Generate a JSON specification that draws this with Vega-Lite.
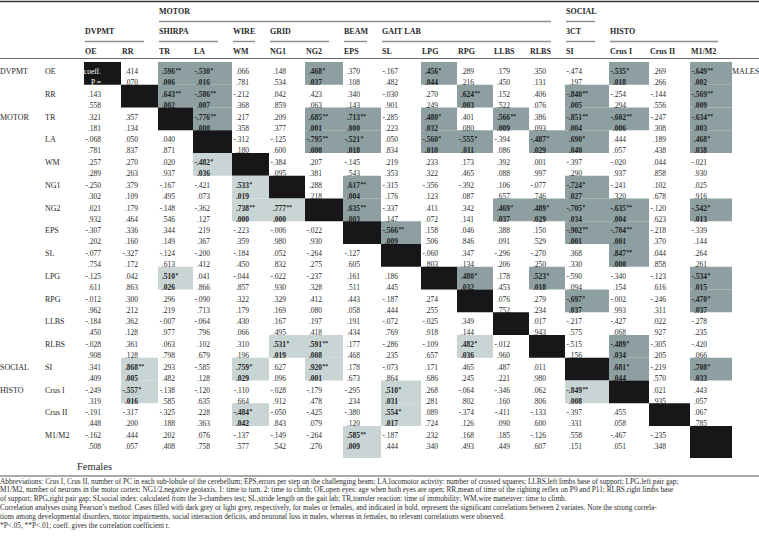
{
 "$schema": "https://vega.github.io/schema/vega-lite/v6.json",
 "width": 759, "height": 538, "padding": 0, "autosize": "none",
 "background": "white",
 "config": {"view": {"stroke": null}, "font": "Liberation Serif"},
 "datasets": {
  "one": [{}],
  "vars": [
   {"v":"OE","i":0,"j":1,"grp":"DVPMT"},{"v":"RR","i":1,"j":2,"grp":""},{"v":"TR","i":2,"j":3,"grp":"MOTOR"},{"v":"LA","i":3,"j":4,"grp":""},
   {"v":"WM","i":4,"j":5,"grp":""},{"v":"NG1","i":5,"j":6,"grp":""},{"v":"NG2","i":6,"j":7,"grp":""},{"v":"EPS","i":7,"j":8,"grp":""},
   {"v":"SL","i":8,"j":9,"grp":""},{"v":"LPG","i":9,"j":10,"grp":""},{"v":"RPG","i":10,"j":11,"grp":""},{"v":"LLBS","i":11,"j":12,"grp":""},
   {"v":"RLBS","i":12,"j":13,"grp":""},{"v":"SI","i":13,"j":14,"grp":"SOCIAL"},{"v":"Crus I","i":14,"j":15,"grp":"HISTO"},{"v":"Crus II","i":15,"j":16,"grp":""},
   {"v":"M1/M2","i":16,"j":17,"grp":""}
  ],
  "groups": [
   {"t":"MOTOR","a":"TR","b":"RLBS","l":-3},{"t":"SOCIAL","a":"SI","b":"SI","l":-3},
   {"t":"DVPMT","a":"OE","b":"RR","l":-2},{"t":"SHIRPA","a":"TR","b":"LA","l":-2},{"t":"WIRE","a":"WM","b":"WM","l":-2},
   {"t":"GRID","a":"NG1","b":"NG2","l":-2},{"t":"BEAM","a":"EPS","b":"EPS","l":-2},{"t":"GAIT LAB","a":"SL","b":"RLBS","l":-2},
   {"t":"3CT","a":"SI","b":"SI","l":-2},{"t":"HISTO","a":"Crus I","b":"M1/M2","l":-2}
  ],
  "cells": [
   {"r":"OE","c":"OE","v":"coeff.","p":"P =","g":"D"},
   {"r":"OE","c":"RR","v":".414","p":".070"},
   {"r":"OE","c":"TR","v":".596","p":".006","s":"**","g":"M"},
   {"r":"OE","c":"LA","v":"-.530","p":".016","s":"*","g":"M"},
   {"r":"OE","c":"WM","v":".066","p":".781"},
   {"r":"OE","c":"NG1","v":".148","p":".534"},
   {"r":"OE","c":"NG2","v":".468","p":".037","s":"*","g":"M"},
   {"r":"OE","c":"EPS","v":".370","p":".108"},
   {"r":"OE","c":"SL","v":"-.167","p":".482"},
   {"r":"OE","c":"LPG","v":".456","p":".044","s":"*","g":"M"},
   {"r":"OE","c":"RPG","v":".289","p":".216"},
   {"r":"OE","c":"LLBS","v":".179","p":".450"},
   {"r":"OE","c":"RLBS","v":".350","p":".131"},
   {"r":"OE","c":"SI","v":"-.474","p":".197"},
   {"r":"OE","c":"Crus I","v":"-.535","p":".018","s":"*","g":"M"},
   {"r":"OE","c":"Crus II","v":".269","p":".266"},
   {"r":"OE","c":"M1/M2","v":"-.649","p":".002","s":"**","g":"M"},

   {"r":"RR","c":"OE","v":".143","p":".558"},
   {"r":"RR","c":"RR","v":"","p":"","g":"D"},
   {"r":"RR","c":"TR","v":".643","p":".002","s":"**","g":"M"},
   {"r":"RR","c":"LA","v":"-.586","p":".007","s":"**","g":"M"},
   {"r":"RR","c":"WM","v":"-.212","p":".368"},
   {"r":"RR","c":"NG1","v":".042","p":".859"},
   {"r":"RR","c":"NG2","v":".423","p":".063"},
   {"r":"RR","c":"EPS","v":".340","p":".143"},
   {"r":"RR","c":"SL","v":"-.030","p":".901"},
   {"r":"RR","c":"LPG","v":".270","p":".249"},
   {"r":"RR","c":"RPG","v":".624","p":".003","s":"**","g":"M"},
   {"r":"RR","c":"LLBS","v":".152","p":".522"},
   {"r":"RR","c":"RLBS","v":".406","p":".076"},
   {"r":"RR","c":"SI","v":"-.840","p":".005","s":"**","g":"M"},
   {"r":"RR","c":"Crus I","v":"-.254","p":".294"},
   {"r":"RR","c":"Crus II","v":"-.144","p":".556"},
   {"r":"RR","c":"M1/M2","v":"-.569","p":".009","s":"**","g":"M"},

   {"r":"TR","c":"OE","v":".321","p":".181"},
   {"r":"TR","c":"RR","v":".357","p":".134"},
   {"r":"TR","c":"TR","v":"","p":"","g":"D"},
   {"r":"TR","c":"LA","v":"-.776","p":".000","s":"**","g":"M"},
   {"r":"TR","c":"WM","v":".217","p":".358"},
   {"r":"TR","c":"NG1","v":".209","p":".377"},
   {"r":"TR","c":"NG2","v":".685","p":".001","s":"**","g":"M"},
   {"r":"TR","c":"EPS","v":".713","p":".000","s":"**","g":"M"},
   {"r":"TR","c":"SL","v":"-.285","p":".223"},
   {"r":"TR","c":"LPG","v":".480","p":".032","s":"*","g":"M"},
   {"r":"TR","c":"RPG","v":".401","p":".080"},
   {"r":"TR","c":"LLBS","v":".566","p":".009","s":"**","g":"M"},
   {"r":"TR","c":"RLBS","v":".386","p":".093"},
   {"r":"TR","c":"SI","v":"-.851","p":".004","s":"**","g":"M"},
   {"r":"TR","c":"Crus I","v":"-.602","p":".006","s":"**","g":"M"},
   {"r":"TR","c":"Crus II","v":"-.247","p":".308"},
   {"r":"TR","c":"M1/M2","v":"-.634","p":".003","s":"**","g":"M"},

   {"r":"LA","c":"OE","v":"-.068","p":".781"},
   {"r":"LA","c":"RR","v":".050","p":".837"},
   {"r":"LA","c":"TR","v":".040","p":".871"},
   {"r":"LA","c":"LA","v":"","p":"","g":"D"},
   {"r":"LA","c":"WM","v":"-.312","p":".180"},
   {"r":"LA","c":"NG1","v":"-.125","p":".600"},
   {"r":"LA","c":"NG2","v":"-.795","p":".000","s":"**","g":"M"},
   {"r":"LA","c":"EPS","v":"-.521","p":".018","s":"*","g":"M"},
   {"r":"LA","c":"SL","v":".050","p":".834"},
   {"r":"LA","c":"LPG","v":"-.560","p":".010","s":"*","g":"M"},
   {"r":"LA","c":"RPG","v":"-.555","p":".011","s":"*","g":"M"},
   {"r":"LA","c":"LLBS","v":"-.394","p":".086"},
   {"r":"LA","c":"RLBS","v":"-.487","p":".029","s":"*","g":"M"},
   {"r":"LA","c":"SI","v":".690","p":".040","s":"*","g":"M"},
   {"r":"LA","c":"Crus I","v":".444","p":".057"},
   {"r":"LA","c":"Crus II","v":".189","p":".438"},
   {"r":"LA","c":"M1/M2","v":".468","p":".038","s":"*","g":"M"},

   {"r":"WM","c":"OE","v":".257","p":".289"},
   {"r":"WM","c":"RR","v":".270","p":".263"},
   {"r":"WM","c":"TR","v":".020","p":".937"},
   {"r":"WM","c":"LA","v":"-.482","p":".036","s":"*","g":"F"},
   {"r":"WM","c":"WM","v":"","p":"","g":"D"},
   {"r":"WM","c":"NG1","v":"-.384","p":".095"},
   {"r":"WM","c":"NG2","v":".207","p":".381"},
   {"r":"WM","c":"EPS","v":"-.145","p":".543"},
   {"r":"WM","c":"SL","v":".219","p":".353"},
   {"r":"WM","c":"LPG","v":".233","p":".322"},
   {"r":"WM","c":"RPG","v":".173","p":".465"},
   {"r":"WM","c":"LLBS","v":".392","p":".088"},
   {"r":"WM","c":"RLBS","v":".001","p":".997"},
   {"r":"WM","c":"SI","v":"-.397","p":".290"},
   {"r":"WM","c":"Crus I","v":"-.020","p":".937"},
   {"r":"WM","c":"Crus II","v":".044","p":".858"},
   {"r":"WM","c":"M1/M2","v":"-.021","p":".930"},

   {"r":"NG1","c":"OE","v":"-.250","p":".302"},
   {"r":"NG1","c":"RR","v":".379","p":".109"},
   {"r":"NG1","c":"TR","v":"-.167","p":".495"},
   {"r":"NG1","c":"LA","v":"-.421","p":".073"},
   {"r":"NG1","c":"WM","v":".533","p":".019","s":"*","g":"F"},
   {"r":"NG1","c":"NG1","v":"","p":"","g":"D"},
   {"r":"NG1","c":"NG2","v":".288","p":".218"},
   {"r":"NG1","c":"EPS","v":".617","p":".004","s":"**","g":"M"},
   {"r":"NG1","c":"SL","v":"-.315","p":".176"},
   {"r":"NG1","c":"LPG","v":"-.356","p":".123"},
   {"r":"NG1","c":"RPG","v":"-.392","p":".087"},
   {"r":"NG1","c":"LLBS","v":".106","p":".657"},
   {"r":"NG1","c":"RLBS","v":"-.077","p":".746"},
   {"r":"NG1","c":"SI","v":"-.724","p":".027","s":"*","g":"M"},
   {"r":"NG1","c":"Crus I","v":"-.241","p":".320"},
   {"r":"NG1","c":"Crus II","v":".102","p":".678"},
   {"r":"NG1","c":"M1/M2","v":".025","p":".916"},

   {"r":"NG2","c":"OE","v":".021","p":".932"},
   {"r":"NG2","c":"RR","v":".179","p":".464"},
   {"r":"NG2","c":"TR","v":"-.148","p":".546"},
   {"r":"NG2","c":"LA","v":"-.362","p":".127"},
   {"r":"NG2","c":"WM","v":".738","p":".000","s":"**","g":"F"},
   {"r":"NG2","c":"NG1","v":".777","p":".000","s":"**","g":"F"},
   {"r":"NG2","c":"NG2","v":"","p":"","g":"D"},
   {"r":"NG2","c":"EPS","v":".635","p":".003","s":"**","g":"M"},
   {"r":"NG2","c":"SL","v":"-.337","p":".147"},
   {"r":"NG2","c":"LPG","v":".411","p":".072"},
   {"r":"NG2","c":"RPG","v":".342","p":".141"},
   {"r":"NG2","c":"LLBS","v":".469","p":".037","s":"*","g":"M"},
   {"r":"NG2","c":"RLBS","v":".489","p":".029","s":"*","g":"M"},
   {"r":"NG2","c":"SI","v":"-.705","p":".034","s":"*","g":"M"},
   {"r":"NG2","c":"Crus I","v":"-.635","p":".004","s":"**","g":"M"},
   {"r":"NG2","c":"Crus II","v":"-.120","p":".623"},
   {"r":"NG2","c":"M1/M2","v":"-.542","p":".013","s":"*","g":"M"},

   {"r":"EPS","c":"OE","v":"-.307","p":".202"},
   {"r":"EPS","c":"RR","v":".336","p":".160"},
   {"r":"EPS","c":"TR","v":".344","p":".149"},
   {"r":"EPS","c":"LA","v":".219","p":".367"},
   {"r":"EPS","c":"WM","v":"-.223","p":".359"},
   {"r":"EPS","c":"NG1","v":"-.006","p":".980"},
   {"r":"EPS","c":"NG2","v":"-.022","p":".930"},
   {"r":"EPS","c":"EPS","v":"","p":"","g":"D"},
   {"r":"EPS","c":"SL","v":"-.566","p":".009","s":"**","g":"M"},
   {"r":"EPS","c":"LPG","v":".158","p":".506"},
   {"r":"EPS","c":"RPG","v":".046","p":".846"},
   {"r":"EPS","c":"LLBS","v":".388","p":".091"},
   {"r":"EPS","c":"RLBS","v":".150","p":".529"},
   {"r":"EPS","c":"SI","v":"-.902","p":".001","s":"**","g":"M"},
   {"r":"EPS","c":"Crus I","v":"-.704","p":".001","s":"**","g":"M"},
   {"r":"EPS","c":"Crus II","v":"-.218","p":".370"},
   {"r":"EPS","c":"M1/M2","v":"-.339","p":".144"},

   {"r":"SL","c":"OE","v":"-.077","p":".754"},
   {"r":"SL","c":"RR","v":"-.327","p":".172"},
   {"r":"SL","c":"TR","v":"-.124","p":".613"},
   {"r":"SL","c":"LA","v":"-.200","p":".412"},
   {"r":"SL","c":"WM","v":"-.184","p":".450"},
   {"r":"SL","c":"NG1","v":".052","p":".832"},
   {"r":"SL","c":"NG2","v":"-.264","p":".275"},
   {"r":"SL","c":"EPS","v":"-.127","p":".605"},
   {"r":"SL","c":"SL","v":"","p":"","g":"D"},
   {"r":"SL","c":"LPG","v":"-.060","p":".803"},
   {"r":"SL","c":"RPG","v":".347","p":".134"},
   {"r":"SL","c":"LLBS","v":"-.296","p":".206"},
   {"r":"SL","c":"RLBS","v":"-.270","p":".250"},
   {"r":"SL","c":"SI","v":".368","p":".330"},
   {"r":"SL","c":"Crus I","v":".847","p":".000","s":"**","g":"M"},
   {"r":"SL","c":"Crus II","v":".044","p":".858"},
   {"r":"SL","c":"M1/M2","v":".264","p":".261"},

   {"r":"LPG","c":"OE","v":"-.125","p":".611"},
   {"r":"LPG","c":"RR","v":".042","p":".863"},
   {"r":"LPG","c":"TR","v":".510","p":".026","s":"*","g":"F"},
   {"r":"LPG","c":"LA","v":".041","p":".866"},
   {"r":"LPG","c":"WM","v":"-.044","p":".857"},
   {"r":"LPG","c":"NG1","v":"-.022","p":".930"},
   {"r":"LPG","c":"NG2","v":"-.237","p":".328"},
   {"r":"LPG","c":"EPS","v":".161","p":".511"},
   {"r":"LPG","c":"SL","v":".186","p":".445"},
   {"r":"LPG","c":"LPG","v":"","p":"","g":"D"},
   {"r":"LPG","c":"RPG","v":".480","p":".032","s":"*","g":"M"},
   {"r":"LPG","c":"LLBS","v":".178","p":".453"},
   {"r":"LPG","c":"RLBS","v":".523","p":".018","s":"*","g":"M"},
   {"r":"LPG","c":"SI","v":"-.590","p":".094"},
   {"r":"LPG","c":"Crus I","v":"-.340","p":".154"},
   {"r":"LPG","c":"Crus II","v":"-.123","p":".616"},
   {"r":"LPG","c":"M1/M2","v":"-.534","p":".015","s":"*","g":"M"},

   {"r":"RPG","c":"OE","v":"-.012","p":".962"},
   {"r":"RPG","c":"RR","v":".300","p":".212"},
   {"r":"RPG","c":"TR","v":".296","p":".219"},
   {"r":"RPG","c":"LA","v":"-.090","p":".713"},
   {"r":"RPG","c":"WM","v":".322","p":".179"},
   {"r":"RPG","c":"NG1","v":".329","p":".169"},
   {"r":"RPG","c":"NG2","v":".412","p":".080"},
   {"r":"RPG","c":"EPS","v":".443","p":".058"},
   {"r":"RPG","c":"SL","v":"-.187","p":".444"},
   {"r":"RPG","c":"LPG","v":".274","p":".255"},
   {"r":"RPG","c":"RPG","v":"","p":"","g":"D"},
   {"r":"RPG","c":"LLBS","v":".076","p":".752"},
   {"r":"RPG","c":"RLBS","v":".279","p":".234"},
   {"r":"RPG","c":"SI","v":"-.697","p":".037","s":"*","g":"M"},
   {"r":"RPG","c":"Crus I","v":"-.002","p":".993"},
   {"r":"RPG","c":"Crus II","v":"-.246","p":".311"},
   {"r":"RPG","c":"M1/M2","v":"-.470","p":".037","s":"*","g":"M"},

   {"r":"LLBS","c":"OE","v":"-.184","p":".450"},
   {"r":"LLBS","c":"RR","v":".362","p":".128"},
   {"r":"LLBS","c":"TR","v":"-.007","p":".977"},
   {"r":"LLBS","c":"LA","v":"-.064","p":".796"},
   {"r":"LLBS","c":"WM","v":".430","p":".066"},
   {"r":"LLBS","c":"NG1","v":".167","p":".495"},
   {"r":"LLBS","c":"NG2","v":".197","p":".418"},
   {"r":"LLBS","c":"EPS","v":".191","p":".434"},
   {"r":"LLBS","c":"SL","v":"-.072","p":".769"},
   {"r":"LLBS","c":"LPG","v":"-.025","p":".918"},
   {"r":"LLBS","c":"RPG","v":".349","p":".144"},
   {"r":"LLBS","c":"LLBS","v":"","p":"","g":"D"},
   {"r":"LLBS","c":"RLBS","v":".017","p":".943"},
   {"r":"LLBS","c":"SI","v":"-.217","p":".575"},
   {"r":"LLBS","c":"Crus I","v":"-.427","p":".068"},
   {"r":"LLBS","c":"Crus II","v":".022","p":".927"},
   {"r":"LLBS","c":"M1/M2","v":"-.278","p":".235"},

   {"r":"RLBS","c":"OE","v":"-.028","p":".908"},
   {"r":"RLBS","c":"RR","v":".361","p":".128"},
   {"r":"RLBS","c":"TR","v":".063","p":".798"},
   {"r":"RLBS","c":"LA","v":".102","p":".679"},
   {"r":"RLBS","c":"WM","v":".310","p":".196"},
   {"r":"RLBS","c":"NG1","v":".531","p":".019","s":"*","g":"F"},
   {"r":"RLBS","c":"NG2","v":".591","p":".008","s":"**","g":"F"},
   {"r":"RLBS","c":"EPS","v":".177","p":".468"},
   {"r":"RLBS","c":"SL","v":"-.286","p":".235"},
   {"r":"RLBS","c":"LPG","v":"-.109","p":".657"},
   {"r":"RLBS","c":"RPG","v":".482","p":".036","s":"*","g":"F"},
   {"r":"RLBS","c":"LLBS","v":"-.012","p":".960"},
   {"r":"RLBS","c":"RLBS","v":"","p":"","g":"D"},
   {"r":"RLBS","c":"SI","v":"-.515","p":".156"},
   {"r":"RLBS","c":"Crus I","v":"-.489","p":".034","s":"*","g":"M"},
   {"r":"RLBS","c":"Crus II","v":"-.305","p":".205"},
   {"r":"RLBS","c":"M1/M2","v":"-.420","p":".066"},

   {"r":"SI","c":"OE","v":".341","p":".409"},
   {"r":"SI","c":"RR","v":".868","p":".005","s":"**","g":"F"},
   {"r":"SI","c":"TR","v":".293","p":".482"},
   {"r":"SI","c":"LA","v":"-.585","p":".128"},
   {"r":"SI","c":"WM","v":".759","p":".029","s":"*","g":"F"},
   {"r":"SI","c":"NG1","v":".627","p":".096"},
   {"r":"SI","c":"NG2","v":".920","p":".001","s":"**","g":"F"},
   {"r":"SI","c":"EPS","v":".178","p":".673"},
   {"r":"SI","c":"SL","v":"-.073","p":".864"},
   {"r":"SI","c":"LPG","v":".171","p":".686"},
   {"r":"SI","c":"RPG","v":".465","p":".245"},
   {"r":"SI","c":"LLBS","v":".487","p":".221"},
   {"r":"SI","c":"RLBS","v":".011","p":".980"},
   {"r":"SI","c":"SI","v":"","p":"","g":"D"},
   {"r":"SI","c":"Crus I","v":".681","p":".044","s":"*","g":"M"},
   {"r":"SI","c":"Crus II","v":"-.219","p":".570"},
   {"r":"SI","c":"M1/M2","v":".708","p":".033","s":"*","g":"M"},

   {"r":"Crus I","c":"OE","v":"-.249","p":".319"},
   {"r":"Crus I","c":"RR","v":"-.557","p":".016","s":"*","g":"F"},
   {"r":"Crus I","c":"TR","v":"-.138","p":".585"},
   {"r":"Crus I","c":"LA","v":"-.120","p":".635"},
   {"r":"Crus I","c":"WM","v":"-.110","p":".664"},
   {"r":"Crus I","c":"NG1","v":"-.028","p":".912"},
   {"r":"Crus I","c":"NG2","v":"-.179","p":".478"},
   {"r":"Crus I","c":"EPS","v":"-.295","p":".234"},
   {"r":"Crus I","c":"SL","v":".510","p":".031","s":"*","g":"F"},
   {"r":"Crus I","c":"LPG","v":".268","p":".281"},
   {"r":"Crus I","c":"RPG","v":"-.064","p":".802"},
   {"r":"Crus I","c":"LLBS","v":"-.346","p":".160"},
   {"r":"Crus I","c":"RLBS","v":".062","p":".806"},
   {"r":"Crus I","c":"SI","v":"-.849","p":".008","s":"**","g":"F"},
   {"r":"Crus I","c":"Crus I","v":"","p":"","g":"D"},
   {"r":"Crus I","c":"Crus II","v":".021","p":".935"},
   {"r":"Crus I","c":"M1/M2","v":".443","p":".057"},

   {"r":"Crus II","c":"OE","v":"-.191","p":".448"},
   {"r":"Crus II","c":"RR","v":"-.317","p":".200"},
   {"r":"Crus II","c":"TR","v":"-.325","p":".188"},
   {"r":"Crus II","c":"LA","v":".228","p":".363"},
   {"r":"Crus II","c":"WM","v":"-.484","p":".042","s":"*","g":"F"},
   {"r":"Crus II","c":"NG1","v":"-.050","p":".843"},
   {"r":"Crus II","c":"NG2","v":"-.425","p":".079"},
   {"r":"Crus II","c":"EPS","v":"-.380","p":".120"},
   {"r":"Crus II","c":"SL","v":".554","p":".017","s":"*","g":"F"},
   {"r":"Crus II","c":"LPG","v":".089","p":".724"},
   {"r":"Crus II","c":"RPG","v":"-.374","p":".126"},
   {"r":"Crus II","c":"LLBS","v":"-.411","p":".090"},
   {"r":"Crus II","c":"RLBS","v":"-.133","p":".600"},
   {"r":"Crus II","c":"SI","v":"-.397","p":".331"},
   {"r":"Crus II","c":"Crus I","v":".455","p":".058"},
   {"r":"Crus II","c":"Crus II","v":"","p":"","g":"D"},
   {"r":"Crus II","c":"M1/M2","v":".067","p":".785"},

   {"r":"M1/M2","c":"OE","v":"-.162","p":".508"},
   {"r":"M1/M2","c":"RR","v":".444","p":".057"},
   {"r":"M1/M2","c":"TR","v":".202","p":".408"},
   {"r":"M1/M2","c":"LA","v":".076","p":".758"},
   {"r":"M1/M2","c":"WM","v":"-.137","p":".577"},
   {"r":"M1/M2","c":"NG1","v":"-.149","p":".542"},
   {"r":"M1/M2","c":"NG2","v":"-.264","p":".276"},
   {"r":"M1/M2","c":"EPS","v":".585","p":".009","s":"**","g":"F"},
   {"r":"M1/M2","c":"SL","v":"-.187","p":".444"},
   {"r":"M1/M2","c":"LPG","v":".232","p":".340"},
   {"r":"M1/M2","c":"RPG","v":".168","p":".493"},
   {"r":"M1/M2","c":"LLBS","v":".185","p":".449"},
   {"r":"M1/M2","c":"RLBS","v":"-.126","p":".607"},
   {"r":"M1/M2","c":"SI","v":".558","p":".151"},
   {"r":"M1/M2","c":"Crus I","v":"-.467","p":".051"},
   {"r":"M1/M2","c":"Crus II","v":"-.235","p":".348"},
   {"r":"M1/M2","c":"M1/M2","v":"","p":"","g":"D"}
  ]
 },
 "layer": [
  {
   "data": {"name": "cells"},
   "transform": [
    {"lookup": "c", "from": {"data": {"name": "vars"}, "key": "v", "fields": ["i", "j"]}, "as": ["ci", "cj"]},
    {"lookup": "r", "from": {"data": {"name": "vars"}, "key": "v", "fields": ["i", "j"]}, "as": ["ri", "rj"]},
    {"filter": "datum.g"}
   ],
   "mark": {"type": "rect"},
   "encoding": {
    "x": {"field": "ci", "type": "quantitative", "axis": null, "scale": {"type": "linear", "domain": [-2,-1,0,1,2,3,4,5,6,7,8,9,10,11,12,13,14,15,16,17,18], "range": [0,45,84,121,158,193,232,269,305,343,381,421,457,493,529,565,609,649,690,732,759], "zero": false, "nice": false}},
    "x2": {"field": "cj"},
    "y": {"field": "ri", "type": "quantitative", "axis": null, "scale": {"type": "linear", "domain": [-3,0,16,17,18,24], "range": [2,62,426,458,476,530], "zero": false, "nice": false}},
    "y2": {"field": "rj"},
    "color": {"field": "g", "type": "nominal", "legend": null, "scale": {"domain": ["M", "F", "D"], "range": ["#8d9fa1", "#c9d4d4", "#17171a"]}}
   }
  },
  {
   "data": {"name": "cells"},
   "transform": [
    {"lookup": "c", "from": {"data": {"name": "vars"}, "key": "v", "fields": ["i"]}, "as": ["ci"]},
    {"lookup": "r", "from": {"data": {"name": "vars"}, "key": "v", "fields": ["i"]}, "as": ["ri"]},
    {"filter": "datum.g !== 'M' && datum.g !== 'F'"}
   ],
   "mark": {"type": "text", "align": "right", "baseline": "middle", "dx": 17, "dy": 10, "fontSize": 7.5},
   "encoding": {
    "x": {"field": "ci", "type": "quantitative", "axis": null, "scale": {"type": "linear", "domain": [-2,-1,0,1,2,3,4,5,6,7,8,9,10,11,12,13,14,15,16,17,18], "range": [0,45,84,121,158,193,232,269,305,343,381,421,457,493,529,565,609,649,690,732,759], "zero": false, "nice": false}},
    "y": {"field": "ri", "type": "quantitative", "axis": null, "scale": {"type": "linear", "domain": [-3,0,16,17,18,24], "range": [2,62,426,458,476,530], "zero": false, "nice": false}},
    "text": {"field": "v"},
    "color": {"condition": {"test": "datum.g === 'D'", "value": "#ffffff"}, "value": "#2a2a2a"}
   }
  },
  {
   "data": {"name": "cells"},
   "transform": [
    {"lookup": "c", "from": {"data": {"name": "vars"}, "key": "v", "fields": ["i"]}, "as": ["ci"]},
    {"lookup": "r", "from": {"data": {"name": "vars"}, "key": "v", "fields": ["i"]}, "as": ["ri"]},
    {"filter": "datum.g !== 'M' && datum.g !== 'F'"}
   ],
   "mark": {"type": "text", "align": "right", "baseline": "middle", "dx": 17, "dy": 21, "fontSize": 7.5},
   "encoding": {
    "x": {"field": "ci", "type": "quantitative", "axis": null, "scale": {"type": "linear", "domain": [-2,-1,0,1,2,3,4,5,6,7,8,9,10,11,12,13,14,15,16,17,18], "range": [0,45,84,121,158,193,232,269,305,343,381,421,457,493,529,565,609,649,690,732,759], "zero": false, "nice": false}},
    "y": {"field": "ri", "type": "quantitative", "axis": null, "scale": {"type": "linear", "domain": [-3,0,16,17,18,24], "range": [2,62,426,458,476,530], "zero": false, "nice": false}},
    "text": {"field": "p"},
    "color": {"condition": {"test": "datum.g === 'D'", "value": "#ffffff"}, "value": "#2a2a2a"}
   }
  },
  {
   "data": {"name": "cells"},
   "transform": [
    {"lookup": "c", "from": {"data": {"name": "vars"}, "key": "v", "fields": ["i"]}, "as": ["ci"]},
    {"lookup": "r", "from": {"data": {"name": "vars"}, "key": "v", "fields": ["i"]}, "as": ["ri"]},
    {"filter": "datum.g === 'M' || datum.g === 'F'"}
   ],
   "mark": {"type": "text", "align": "right", "baseline": "middle", "dx": 17, "dy": 10, "fontSize": 7.5, "fontWeight": "bold", "color": "#1e1e1e"},
   "encoding": {
    "x": {"field": "ci", "type": "quantitative", "axis": null, "scale": {"type": "linear", "domain": [-2,-1,0,1,2,3,4,5,6,7,8,9,10,11,12,13,14,15,16,17,18], "range": [0,45,84,121,158,193,232,269,305,343,381,421,457,493,529,565,609,649,690,732,759], "zero": false, "nice": false}},
    "y": {"field": "ri", "type": "quantitative", "axis": null, "scale": {"type": "linear", "domain": [-3,0,16,17,18,24], "range": [2,62,426,458,476,530], "zero": false, "nice": false}},
    "text": {"field": "v"}
   }
  },
  {
   "data": {"name": "cells"},
   "transform": [
    {"lookup": "c", "from": {"data": {"name": "vars"}, "key": "v", "fields": ["i"]}, "as": ["ci"]},
    {"lookup": "r", "from": {"data": {"name": "vars"}, "key": "v", "fields": ["i"]}, "as": ["ri"]},
    {"filter": "datum.g === 'M' || datum.g === 'F'"}
   ],
   "mark": {"type": "text", "align": "right", "baseline": "middle", "dx": 17, "dy": 21, "fontSize": 7.5, "fontWeight": "bold", "color": "#1e1e1e"},
   "encoding": {
    "x": {"field": "ci", "type": "quantitative", "axis": null, "scale": {"type": "linear", "domain": [-2,-1,0,1,2,3,4,5,6,7,8,9,10,11,12,13,14,15,16,17,18], "range": [0,45,84,121,158,193,232,269,305,343,381,421,457,493,529,565,609,649,690,732,759], "zero": false, "nice": false}},
    "y": {"field": "ri", "type": "quantitative", "axis": null, "scale": {"type": "linear", "domain": [-3,0,16,17,18,24], "range": [2,62,426,458,476,530], "zero": false, "nice": false}},
    "text": {"field": "p"}
   }
  },
  {
   "data": {"name": "cells"},
   "transform": [
    {"lookup": "c", "from": {"data": {"name": "vars"}, "key": "v", "fields": ["i"]}, "as": ["ci"]},
    {"lookup": "r", "from": {"data": {"name": "vars"}, "key": "v", "fields": ["i"]}, "as": ["ri"]},
    {"filter": "datum.s"}
   ],
   "mark": {"type": "text", "align": "left", "baseline": "middle", "dx": 17.5, "dy": 8, "fontSize": 5.5, "fontWeight": "bold", "color": "#1e1e1e"},
   "encoding": {
    "x": {"field": "ci", "type": "quantitative", "axis": null, "scale": {"type": "linear", "domain": [-2,-1,0,1,2,3,4,5,6,7,8,9,10,11,12,13,14,15,16,17,18], "range": [0,45,84,121,158,193,232,269,305,343,381,421,457,493,529,565,609,649,690,732,759], "zero": false, "nice": false}},
    "y": {"field": "ri", "type": "quantitative", "axis": null, "scale": {"type": "linear", "domain": [-3,0,16,17,18,24], "range": [2,62,426,458,476,530], "zero": false, "nice": false}},
    "text": {"field": "s"}
   }
  },
  {
   "data": {"name": "vars"},
   "mark": {"type": "text", "align": "left", "baseline": "middle", "dy": 10, "fontSize": 8, "color": "#2a2a2a"},
   "encoding": {
    "x": {"datum": -1, "type": "quantitative", "axis": null, "scale": {"type": "linear", "domain": [-2,-1,0,1,2,3,4,5,6,7,8,9,10,11,12,13,14,15,16,17,18], "range": [0,45,84,121,158,193,232,269,305,343,381,421,457,493,529,565,609,649,690,732,759], "zero": false, "nice": false}},
    "y": {"field": "i", "type": "quantitative", "axis": null, "scale": {"type": "linear", "domain": [-3,0,16,17,18,24], "range": [2,62,426,458,476,530], "zero": false, "nice": false}},
    "text": {"field": "v"}
   }
  },
  {
   "data": {"name": "vars"},
   "transform": [{"filter": "datum.grp"}],
   "mark": {"type": "text", "align": "left", "baseline": "middle", "dy": 10, "fontSize": 8, "color": "#2a2a2a"},
   "encoding": {
    "x": {"datum": -2, "type": "quantitative", "axis": null, "scale": {"type": "linear", "domain": [-2,-1,0,1,2,3,4,5,6,7,8,9,10,11,12,13,14,15,16,17,18], "range": [0,45,84,121,158,193,232,269,305,343,381,421,457,493,529,565,609,649,690,732,759], "zero": false, "nice": false}},
    "y": {"field": "i", "type": "quantitative", "axis": null, "scale": {"type": "linear", "domain": [-3,0,16,17,18,24], "range": [2,62,426,458,476,530], "zero": false, "nice": false}},
    "text": {"field": "grp"}
   }
  },
  {
   "data": {"name": "vars"},
   "mark": {"type": "text", "align": "left", "baseline": "middle", "dx": 1, "dy": 10, "fontSize": 8, "fontWeight": "bold", "color": "#2a2a2a"},
   "encoding": {
    "x": {"field": "i", "type": "quantitative", "axis": null, "scale": {"type": "linear", "domain": [-2,-1,0,1,2,3,4,5,6,7,8,9,10,11,12,13,14,15,16,17,18], "range": [0,45,84,121,158,193,232,269,305,343,381,421,457,493,529,565,609,649,690,732,759], "zero": false, "nice": false}},
    "y": {"datum": -1, "type": "quantitative", "axis": null, "scale": {"type": "linear", "domain": [-3,0,16,17,18,24], "range": [2,62,426,458,476,530], "zero": false, "nice": false}},
    "text": {"field": "v"}
   }
  },
  {
   "data": {"name": "groups"},
   "transform": [
    {"lookup": "a", "from": {"data": {"name": "vars"}, "key": "v", "fields": ["i"]}, "as": ["ai"]}
   ],
   "mark": {"type": "text", "align": "left", "baseline": "middle", "dx": 1, "dy": 10, "fontSize": 8, "fontWeight": "bold", "color": "#2a2a2a"},
   "encoding": {
    "x": {"field": "ai", "type": "quantitative", "axis": null, "scale": {"type": "linear", "domain": [-2,-1,0,1,2,3,4,5,6,7,8,9,10,11,12,13,14,15,16,17,18], "range": [0,45,84,121,158,193,232,269,305,343,381,421,457,493,529,565,609,649,690,732,759], "zero": false, "nice": false}},
    "y": {"field": "l", "type": "quantitative", "axis": null, "scale": {"type": "linear", "domain": [-3,0,16,17,18,24], "range": [2,62,426,458,476,530], "zero": false, "nice": false}},
    "text": {"field": "t"}
   }
  },
  {
   "data": {"name": "groups"},
   "transform": [
    {"lookup": "a", "from": {"data": {"name": "vars"}, "key": "v", "fields": ["i"]}, "as": ["ai"]},
    {"lookup": "b", "from": {"data": {"name": "vars"}, "key": "v", "fields": ["j"]}, "as": ["bj"]}
   ],
   "mark": {"type": "rule", "strokeWidth": 1.4, "color": "#8e8e8e", "yOffset": 19.5, "x2Offset": -14, "xOffset": 1},
   "encoding": {
    "x": {"field": "ai", "type": "quantitative", "axis": null, "scale": {"type": "linear", "domain": [-2,-1,0,1,2,3,4,5,6,7,8,9,10,11,12,13,14,15,16,17,18], "range": [0,45,84,121,158,193,232,269,305,343,381,421,457,493,529,565,609,649,690,732,759], "zero": false, "nice": false}},
    "x2": {"field": "bj"},
    "y": {"field": "l", "type": "quantitative", "axis": null, "scale": {"type": "linear", "domain": [-3,0,16,17,18,24], "range": [2,62,426,458,476,530], "zero": false, "nice": false}}
   }
  },
  {
   "data": {"name": "one"},
   "mark": {"type": "rule", "strokeWidth": 1.6, "color": "#3a3a3a", "yOffset": -0.5},
   "encoding": {
    "x": {"datum": -2, "type": "quantitative", "axis": null, "scale": {"type": "linear", "domain": [-2,-1,0,1,2,3,4,5,6,7,8,9,10,11,12,13,14,15,16,17,18], "range": [0,45,84,121,158,193,232,269,305,343,381,421,457,493,529,565,609,649,690,732,759], "zero": false, "nice": false}},
    "x2": {"datum": 18},
    "y": {"datum": -3, "type": "quantitative", "axis": null, "scale": {"type": "linear", "domain": [-3,0,16,17,18,24], "range": [2,62,426,458,476,530], "zero": false, "nice": false}}
   }
  },
  {
   "data": {"name": "one"},
   "mark": {"type": "rule", "strokeWidth": 1, "color": "#6a6a6a", "yOffset": -3.5},
   "encoding": {
    "x": {"datum": -2, "type": "quantitative", "axis": null, "scale": {"type": "linear", "domain": [-2,-1,0,1,2,3,4,5,6,7,8,9,10,11,12,13,14,15,16,17,18], "range": [0,45,84,121,158,193,232,269,305,343,381,421,457,493,529,565,609,649,690,732,759], "zero": false, "nice": false}},
    "x2": {"datum": 18},
    "y": {"datum": 0, "type": "quantitative", "axis": null, "scale": {"type": "linear", "domain": [-3,0,16,17,18,24], "range": [2,62,426,458,476,530], "zero": false, "nice": false}}
   }
  },
  {
   "data": {"name": "one"},
   "mark": {"type": "rule", "strokeWidth": 1, "color": "#555555"},
   "encoding": {
    "x": {"datum": -2, "type": "quantitative", "axis": null, "scale": {"type": "linear", "domain": [-2,-1,0,1,2,3,4,5,6,7,8,9,10,11,12,13,14,15,16,17,18], "range": [0,45,84,121,158,193,232,269,305,343,381,421,457,493,529,565,609,649,690,732,759], "zero": false, "nice": false}},
    "x2": {"datum": 18},
    "y": {"datum": 18, "type": "quantitative", "axis": null, "scale": {"type": "linear", "domain": [-3,0,16,17,18,24], "range": [2,62,426,458,476,530], "zero": false, "nice": false}}
   }
  },
  {
   "data": {"name": "one"},
   "mark": {"type": "text", "text": "MALES", "align": "left", "baseline": "middle", "dy": 10, "fontSize": 8, "color": "#2a2a2a"},
   "encoding": {
    "x": {"datum": 17, "type": "quantitative", "axis": null, "scale": {"type": "linear", "domain": [-2,-1,0,1,2,3,4,5,6,7,8,9,10,11,12,13,14,15,16,17,18], "range": [0,45,84,121,158,193,232,269,305,343,381,421,457,493,529,565,609,649,690,732,759], "zero": false, "nice": false}},
    "y": {"datum": 0, "type": "quantitative", "axis": null, "scale": {"type": "linear", "domain": [-3,0,16,17,18,24], "range": [2,62,426,458,476,530], "zero": false, "nice": false}}
   }
  },
  {
   "data": {"name": "one"},
   "mark": {"type": "text", "text": "Females", "align": "left", "baseline": "middle", "dx": -7, "dy": 9, "fontSize": 10.5, "color": "#2a2a2a"},
   "encoding": {
    "x": {"datum": 0, "type": "quantitative", "axis": null, "scale": {"type": "linear", "domain": [-2,-1,0,1,2,3,4,5,6,7,8,9,10,11,12,13,14,15,16,17,18], "range": [0,45,84,121,158,193,232,269,305,343,381,421,457,493,529,565,609,649,690,732,759], "zero": false, "nice": false}},
    "y": {"datum": 17, "type": "quantitative", "axis": null, "scale": {"type": "linear", "domain": [-3,0,16,17,18,24], "range": [2,62,426,458,476,530], "zero": false, "nice": false}}
   }
  },
  {
   "data": {"name": "one"},
   "mark": {"type": "text", "align": "left", "baseline": "middle", "dy": 5.5, "fontSize": 7.3, "lineHeight": 8.9, "color": "#2a2a2a",
     "text": [
      "Abbreviations: Crus I, Crus II, number of PC in each sub-lobule of the cerebellum; EPS,errors per step on the challenging beam; LA,locomotor activity: number of crossed squares; LLBS,left limbs base of support; LPG,left pair gap;",
      "M1/M2, number of neurons in the motor cortex; NG1/2,negative geotaxis, 1: time to turn, 2: time to climb; OE,open eyes: age when both eyes are open; RR,mean of time of the righting reflex on P9 and P11; RLBS,right limbs base",
      "of support; RPG,right pair gap; SI,social index: calculated from the 3-chambers test; SL,stride length on the gait lab; TR,transfer reaction: time of immobility; WM,wire maneuver: time to climb.",
      "Correlation analyses using Pearson’s method. Cases filled with dark grey or light grey, respectively, for males or females, and indicated in bold, represent the significant correlations between 2 variates. Note the strong correla-",
      "tions among developmental disorders, motor impairments, social interaction deficits, and neuronal loss in males, whereas in females, no relevant correlations were observed.",
      "*P<.05, **P<.01; coeff. gives the correlation coefficient r."
     ]},
   "encoding": {
    "x": {"datum": -2, "type": "quantitative", "axis": null, "scale": {"type": "linear", "domain": [-2,-1,0,1,2,3,4,5,6,7,8,9,10,11,12,13,14,15,16,17,18], "range": [0,45,84,121,158,193,232,269,305,343,381,421,457,493,529,565,609,649,690,732,759], "zero": false, "nice": false}},
    "y": {"datum": 18, "type": "quantitative", "axis": null, "scale": {"type": "linear", "domain": [-3,0,16,17,18,24], "range": [2,62,426,458,476,530], "zero": false, "nice": false}}
   }
  }
 ]
}
